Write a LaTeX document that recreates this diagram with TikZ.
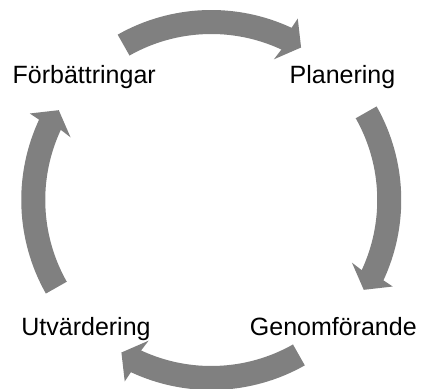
\documentclass[tikz,border=0pt]{standalone}
\usepackage{fontspec}
\setmainfont{Liberation Sans}
\definecolor{arrowgray}{RGB}{128,128,128}
\tikzset{
  lbl/.style={anchor=base, inner sep=0pt, font=\fontsize{25bp}{30bp}\selectfont},
  cyclearrow/.style={fill=arrowgray, draw=none}
}
\newcommand{\cyclearrowpath}{%
  (119.5:190bp) arc[start angle=119.5, end angle=65, radius=190bp]
  -- (64.5:201bp) -- (59.5:177bp) -- (66:154bp) -- (65:166bp)
  arc[start angle=65, end angle=119.5, radius=166bp] -- cycle}
\begin{document}
\begin{tikzpicture}[x=1bp,y=1bp]
\useasboundingbox (0,0) rectangle (421,389);
\coordinate (c) at (211.25,189);
\node[lbl] (forb) at (84.2,305.7) {Förbättringar};
\node[lbl] (plan) at (342.5,305.7) {Planering};
\node[lbl] (genom) at (333.3,54) {Genomförande};
\node[lbl] (utv) at (86,54) {Utvärdering};
\begin{scope}[shift={(c)}]
  \fill[cyclearrow] \cyclearrowpath;
  \fill[cyclearrow, rotate=-90] \cyclearrowpath;
  \fill[cyclearrow, rotate=-180] \cyclearrowpath;
  \fill[cyclearrow, rotate=-270] \cyclearrowpath;
\end{scope}
\end{tikzpicture}
\end{document}
